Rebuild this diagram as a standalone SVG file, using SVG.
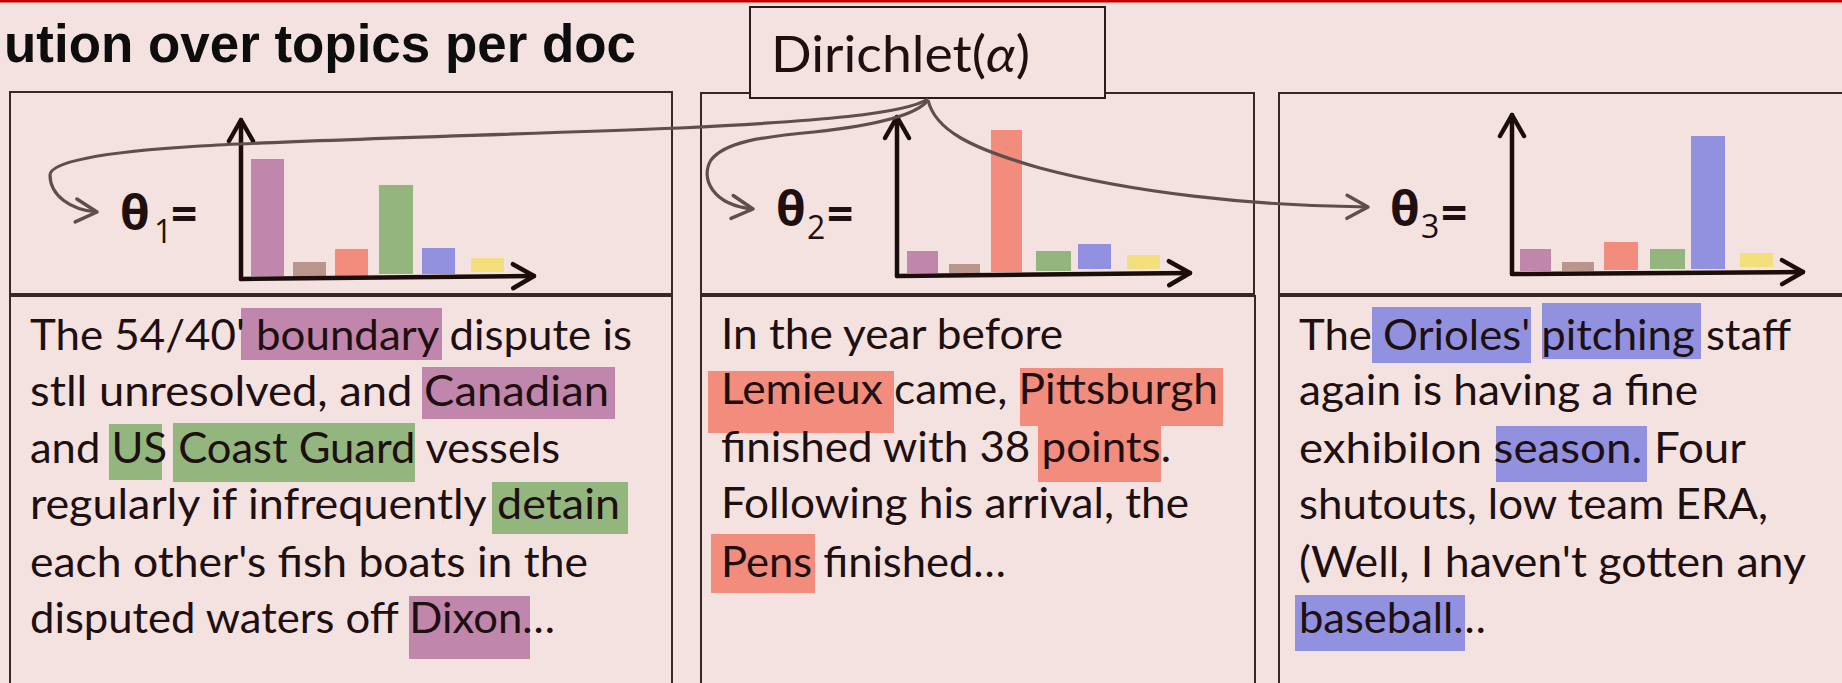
<svg xmlns="http://www.w3.org/2000/svg" width="1842" height="683" viewBox="0 0 1842 683">
<style>
.box{fill:none;stroke:#3a2626;stroke-width:2}
.ax{fill:none;stroke:#1c0d0d;stroke-width:4.5;stroke-linecap:round}
.conn{fill:none;stroke:#5e4f4f;stroke-width:3.2}
.body{font-family:Lato,"Open Sans",sans-serif;font-size:42px;fill:#1e0f10}
.th{font-family:"Open Sans","DejaVu Sans",sans-serif;fill:#1e0f10}
.tg{font-size:48px;font-weight:bold}
.sb{font-size:32px}
.eq{font-size:46px;font-weight:bold}
.pu{fill:#c086ab}.br{fill:#b8968c}.sa{fill:#f28c7c}.gr{fill:#93b67f}.bl{fill:#9191e0}.ye{fill:#f3df7b}
</style>
<defs>
<marker id="chev" markerUnits="userSpaceOnUse" orient="auto" refX="0" refY="0" viewBox="-26 -16 30 32" markerWidth="30" markerHeight="32" overflow="visible">
<path d="M-21,-11.5 L0,0 L-21,11.5" fill="none" stroke="#5e4f4f" stroke-width="3.5" stroke-linecap="round" stroke-linejoin="round"/>
</marker>
<marker id="axchev" markerUnits="userSpaceOnUse" orient="auto" refX="0" refY="0" viewBox="-26 -16 30 32" markerWidth="30" markerHeight="32" overflow="visible">
<path d="M-21,-12 L0,0 L-21,12" fill="none" stroke="#1c0d0d" stroke-width="4.5" stroke-linecap="round" stroke-linejoin="round"/>
</marker>
</defs>
<rect x="0" y="0" width="1842" height="683" fill="#f4e2e1"/>
<rect x="0" y="0" width="1842" height="2.5" fill="#c00000"/>

<g id="title">
<text x="4" y="62" font-family="'Liberation Sans',Arial,sans-serif" font-weight="bold" font-size="53" fill="#0d0d0d" textLength="632" lengthAdjust="spacingAndGlyphs">ution over topics per doc</text>
</g>

<g id="doc1">
<rect class="box" x="10" y="92" width="662" height="202"/>
<rect class="box" x="10" y="296" width="662" height="420"/>
<text class="th"><tspan class="tg" x="120" y="230">θ</tspan><tspan class="sb" x="154" y="243">1</tspan><tspan class="eq" x="171" y="231">=</tspan></text>
<rect class="pu" x="251" y="159" width="33" height="117"/>
<rect class="br" x="293" y="262" width="33" height="14"/>
<rect class="sa" x="335" y="249" width="33" height="27"/>
<rect class="gr" x="379" y="185" width="34" height="89"/>
<rect class="bl" x="422" y="248" width="33" height="26"/>
<rect class="ye" x="471" y="258" width="33" height="14"/>
<path class="ax" d="M241,279 L241,120" marker-end="url(#axchev)"/>
<path class="ax" d="M241,279 L534,276" marker-end="url(#axchev)"/>
<rect class="pu" x="241" y="308" width="201" height="52"/>
<rect class="pu" x="422" y="367" width="193" height="52"/>
<rect class="gr" x="109" y="424" width="53" height="56"/>
<rect class="gr" x="173" y="423" width="242" height="59"/>
<rect class="gr" x="492" y="482" width="136" height="52"/>
<rect class="pu" x="409" y="596" width="121" height="63"/>
<text class="body" x="30" y="350" textLength="602" lengthAdjust="spacingAndGlyphs">The 54/40' boundary dispute is</text>
<text class="body" x="30" y="406" textLength="579" lengthAdjust="spacingAndGlyphs">stll unresolved, and Canadian</text>
<text class="body" x="30" y="463" textLength="530" lengthAdjust="spacingAndGlyphs">and US Coast Guard vessels</text>
<text class="body" x="30" y="519" textLength="590" lengthAdjust="spacingAndGlyphs">regularly if infrequently detain</text>
<text class="body" x="30" y="577" textLength="558" lengthAdjust="spacingAndGlyphs">each other's fish boats in the</text>
<text class="body" x="30" y="633" textLength="525" lengthAdjust="spacingAndGlyphs">disputed waters off Dixon…</text>
</g>

<g id="doc2">
<rect class="box" x="701" y="93" width="553" height="201"/>
<rect class="box" x="701" y="296" width="554" height="420"/>
<text class="th"><tspan class="tg" x="776" y="226">θ</tspan><tspan class="sb" x="807" y="239">2</tspan><tspan class="eq" x="827" y="231">=</tspan></text>
<rect class="pu" x="907" y="251" width="31" height="22"/>
<rect class="br" x="949" y="264" width="31" height="9"/>
<rect class="sa" x="991" y="130" width="31" height="142"/>
<rect class="gr" x="1036" y="251" width="35" height="20"/>
<rect class="bl" x="1078" y="244" width="33" height="25"/>
<rect class="ye" x="1127" y="255" width="33" height="14"/>
<path class="ax" d="M897,276 L897,117" marker-end="url(#axchev)"/>
<path class="ax" d="M897,276 L1190,273" marker-end="url(#axchev)"/>
<rect class="sa" x="708" y="371" width="186" height="62"/>
<rect class="sa" x="1020" y="368" width="203" height="58"/>
<rect class="sa" x="1038" y="426" width="123" height="56"/>
<rect class="sa" x="711" y="534" width="104" height="59"/>
<text class="body" x="721" y="349" textLength="342" lengthAdjust="spacingAndGlyphs">In the year before</text>
<text class="body" x="721" y="404" textLength="497" lengthAdjust="spacingAndGlyphs">Lemieux came, Pittsburgh</text>
<text class="body" x="721" y="462" textLength="450" lengthAdjust="spacingAndGlyphs">finished with 38 points.</text>
<text class="body" x="721" y="518" textLength="468" lengthAdjust="spacingAndGlyphs">Following his arrival, the</text>
<text class="body" x="721" y="577" textLength="285" lengthAdjust="spacingAndGlyphs">Pens finished…</text>
</g>

<g id="doc3">
<rect class="box" x="1279" y="93" width="600" height="201"/>
<rect class="box" x="1279" y="296" width="600" height="420"/>
<text class="th"><tspan class="tg" x="1390" y="226">θ</tspan><tspan class="sb" x="1421" y="238">3</tspan><tspan class="eq" x="1441" y="230">=</tspan></text>
<rect class="pu" x="1520" y="249" width="31" height="22"/>
<rect class="br" x="1562" y="262" width="32" height="9"/>
<rect class="sa" x="1604" y="242" width="34" height="28"/>
<rect class="gr" x="1650" y="249" width="35" height="20"/>
<rect class="bl" x="1691" y="136" width="34" height="133"/>
<rect class="ye" x="1740" y="253" width="33" height="14"/>
<path class="ax" d="M1512,274 L1512,115" marker-end="url(#axchev)"/>
<path class="ax" d="M1512,274 L1803,272" marker-end="url(#axchev)"/>
<rect class="bl" x="1372" y="307" width="159" height="56"/>
<rect class="bl" x="1542" y="303" width="159" height="56"/>
<rect class="bl" x="1496" y="426" width="151" height="56"/>
<rect class="bl" x="1295" y="595" width="170" height="56"/>
<text class="body" x="1299" y="350" textLength="492" lengthAdjust="spacingAndGlyphs">The Orioles' pitching staff</text>
<text class="body" x="1299" y="405" textLength="399" lengthAdjust="spacingAndGlyphs">again is having a fine</text>
<text class="body" x="1299" y="463" textLength="447" lengthAdjust="spacingAndGlyphs">exhibiIon season. Four</text>
<text class="body" x="1299" y="519" textLength="469" lengthAdjust="spacingAndGlyphs">shutouts, low team ERA,</text>
<text class="body" x="1299" y="577" textLength="507" lengthAdjust="spacingAndGlyphs">(Well, I haven't gotten any</text>
<text class="body" x="1299" y="633" textLength="187" lengthAdjust="spacingAndGlyphs">baseball…</text>
</g>

<g id="dirichlet">
<rect x="750" y="7" width="355" height="91" fill="#f4e2e1" stroke="#2a1a1a" stroke-width="2"/>
<text x="771" y="72" font-family="Lato,'Open Sans',sans-serif" font-size="51" fill="#1e0f10" textLength="259" lengthAdjust="spacingAndGlyphs">Dirichlet(<tspan font-style="italic">α</tspan>)</text>
</g>

<g id="connectors">
<path class="conn" d="M928,99 C905,114 820,121 680,128 C500,135 300,140 200,146 C100,152 50,162 50,175 C50,195 70,210 97,212" marker-end="url(#chev)"/>
<path class="conn" d="M928,100 C915,118 860,127 814,132 C760,137 725,142 711,160 C700,178 712,205 753,209" marker-end="url(#chev)"/>
<path class="conn" d="M928,100 C935,130 970,148 1040,168 C1130,192 1250,206 1368,207" marker-end="url(#chev)"/>
</g>
</svg>
